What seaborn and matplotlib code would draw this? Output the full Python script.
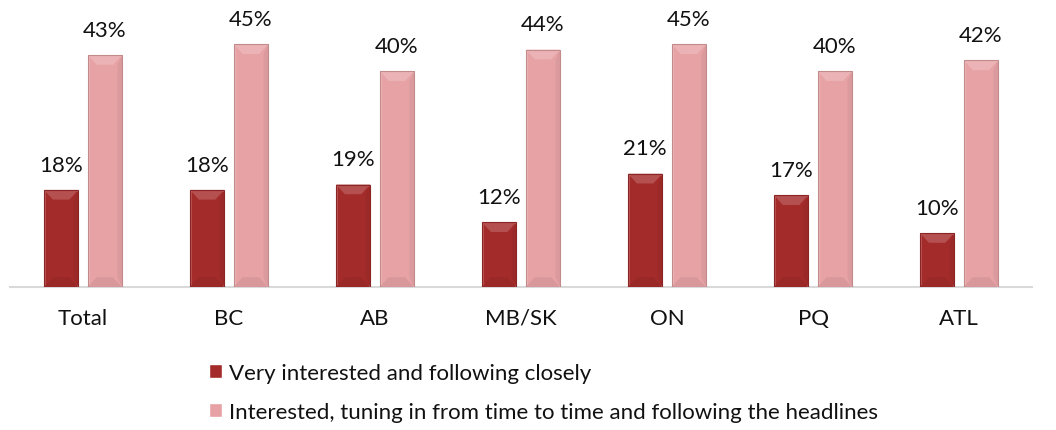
import matplotlib
matplotlib.use("Agg")
import matplotlib.pyplot as plt
from matplotlib.patches import Polygon
import seaborn as sns
import pandas as pd

regions = ["Total", "BC", "AB", "MB/SK", "ON", "PQ", "ATL"]
very_interested = [18, 18, 19, 12, 21, 17, 10]
interested = [43, 45, 40, 44, 45, 40, 42]
series_names = [
    "Very interested and following closely",
    "Interested, tuning in from time to time and following the headlines",
]
colors = ["#A32B2A", "#E6A2A5"]

df = pd.DataFrame({
    "region": regions * 2,
    "pct": very_interested + interested,
    "series": [series_names[0]] * len(regions) + [series_names[1]] * len(regions),
})

sns.set_theme(style="white")
plt.rcParams["font.family"] = ["Lato", "DejaVu Sans"]

fig = plt.figure(figsize=(10.56, 4.31), dpi=100)
ax = fig.add_axes([10 / 1056, 143 / 431, 1022 / 1056, 288 / 431])

sns.barplot(data=df, x="region", y="pct", hue="series", order=regions,
            hue_order=series_names, palette=colors, width=0.6, gap=0.22,
            saturation=1, ax=ax, errorbar=None)

ax.set_ylim(0, 53.4)
ax.set_xlim(-0.5, len(regions) - 0.5)
ax.set_xlabel("")
ax.set_ylabel("")
ax.set_yticks([])
ax.tick_params(axis="x", length=0, labelsize=16, pad=15, labelcolor="#111111")
for s in ["top", "right", "left"]:
    ax.spines[s].set_visible(False)
ax.spines["bottom"].set_color("#D9D9D9")
ax.spines["bottom"].set_linewidth(1.5)


def shade(c, f):
    r, g, b = matplotlib.colors.to_rgb(c)
    if f > 1:
        return tuple(min(1, x + (1 - x) * (f - 1)) for x in (r, g, b))
    return (r * f, g * f, b * f)


# bevelled look: a lighter top facet, slightly darker right and bottom facets
for container, col in zip(ax.containers, colors):
    for p in container.patches:
        x0, y0 = p.get_x(), p.get_y()
        w, h = p.get_width(), p.get_height()
        x1, y1 = x0 + w, y0 + h
        bx = w * 0.26
        by = 1.8
        top = [(x0, y1), (x1, y1), (x1 - bx, y1 - by), (x0 + bx, y1 - by)]
        bottom = [(x0, y0), (x1, y0), (x1 - bx, y0 + by), (x0 + bx, y0 + by)]
        right = [(x1, y0), (x1, y1), (x1 - bx * 0.5, y1 - by), (x1 - bx * 0.5, y0 + by)]
        ax.add_patch(Polygon(right, closed=True, color=shade(col, 0.95), lw=0, zorder=3))
        ax.add_patch(Polygon(bottom, closed=True, color=shade(col, 0.94), lw=0, zorder=3))
        ax.add_patch(Polygon(top, closed=True, color=shade(col, 1.18), lw=0, zorder=3))
        ax.add_patch(plt.Rectangle((x0, y0), w, h, fill=False,
                                   ec=shade(col, 0.85), lw=0.8, zorder=4))
    ax.bar_label(container, labels=[f"{v:.0f}%" for v in container.datavalues],
                 padding=11, fontsize=16, color="#111111")

sns.move_legend(ax, "upper left", bbox_to_anchor=(189 / 1056, 87 / 431),
                bbox_transform=fig.transFigure, frameon=False, title=None,
                fontsize=16, handlelength=0.6, handleheight=0.6,
                handletextpad=0.3, labelspacing=0.85, labelcolor="#111111")

fig.savefig("out.png", dpi=100)
